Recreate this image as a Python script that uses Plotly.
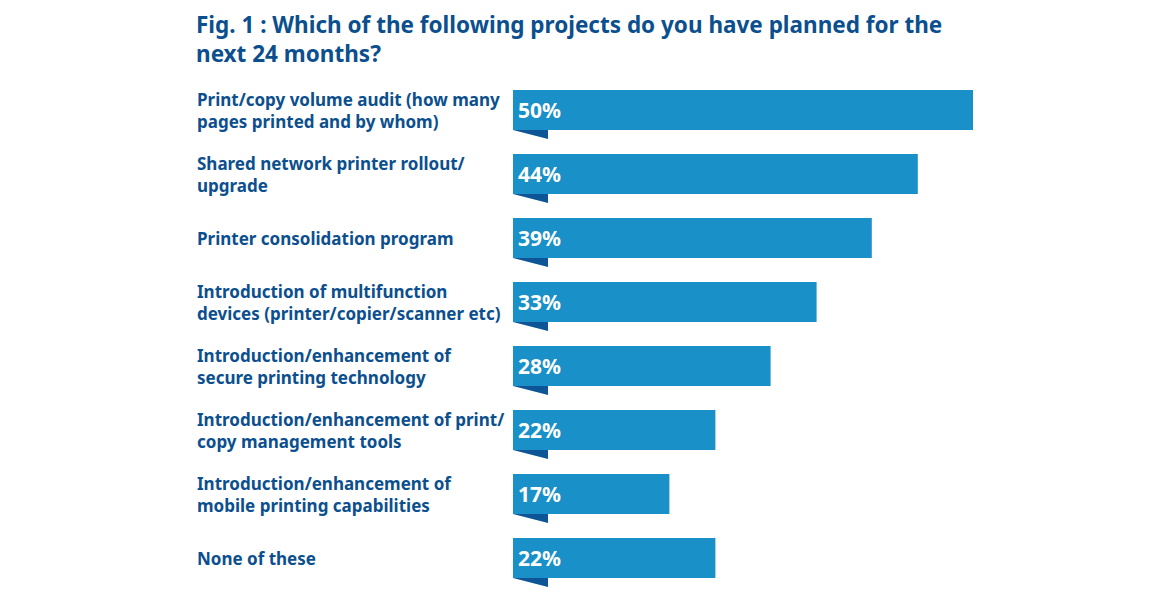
import plotly.graph_objects as go

# Survey data
projects = [
    "Print/copy volume audit (how many<br>pages printed and by whom)",
    "Shared network printer rollout/<br>upgrade",
    "Printer consolidation program",
    "Introduction of multifunction<br>devices (printer/copier/scanner etc)",
    "Introduction/enhancement of<br>secure printing technology",
    "Introduction/enhancement of print/<br>copy management tools",
    "Introduction/enhancement of<br>mobile printing capabilities",
    "None of these",
]
percent = [50, 44, 39, 33, 28, 22, 17, 22]

title = "Fig. 1 : Which of the following projects do you have planned for the<br>next 24 months?"

BAR = "#1990c8"
FOLD = "#0d5596"
TEXT = "#0c4f8e"
FONT = "Noto Sans"

W, H = 1170, 604
OFF = 8              # page body margin
x0_px = 513 - OFF    # pixel where 0% sits
px_per_pct = 9.2
first_center = 110 - OFF
pitch = 64
bar_px = 40
left_px = 195 - OFF

idx = list(range(len(percent)))

fig = go.Figure()
fig.add_trace(go.Bar(
    x=percent, y=idx, orientation="h",
    marker=dict(color=BAR, line=dict(width=0)),
    width=bar_px / pitch, hoverinfo="skip",
))

# little folded ribbon under each bar
fold_w = 35 / px_per_pct
fold_h = 9 / pitch
half = bar_px / pitch / 2
for i in idx:
    yb = i + half
    fig.add_shape(type="path",
                  path=f"M 0 {yb} L {fold_w} {yb} L {fold_w} {yb + fold_h} Z",
                  fillcolor=FOLD, line=dict(width=0), layer="above")

# percentage labels
for i, v in zip(idx, percent):
    fig.add_annotation(x=0, y=i, text=f"<b>{v}%</b>", showarrow=False,
                       xanchor="left", yanchor="middle", xshift=3,
                       font=dict(family=FONT, size=21, color="white"))

# category labels
for i, lab in zip(idx, projects):
    fig.add_annotation(x=left_px / W, xref="paper", y=i, yref="y", text=f"<b>{lab}</b>",
                       showarrow=False, xanchor="left", yanchor="middle", align="left",
                       font=dict(family=FONT, size=17, color=TEXT))

fig.add_annotation(x=left_px / W, xref="paper", y=1, yref="paper",
                   text=f"<b>{title}</b>", showarrow=False, xanchor="left", yanchor="top",
                   align="left", borderpad=0, font=dict(family=FONT, size=22.5, color=TEXT))

fig.update_xaxes(domain=[x0_px / W, 1], range=[0, (W - x0_px) / px_per_pct],
                 visible=False, fixedrange=True)
fig.update_yaxes(range=[(H - first_center) / pitch, -first_center / pitch],
                 visible=False, fixedrange=True)
fig.update_layout(width=W, height=H, margin=dict(l=0, r=0, t=0, b=0),
                  paper_bgcolor="white", plot_bgcolor="white", showlegend=False)

fig.write_html("out.html")
